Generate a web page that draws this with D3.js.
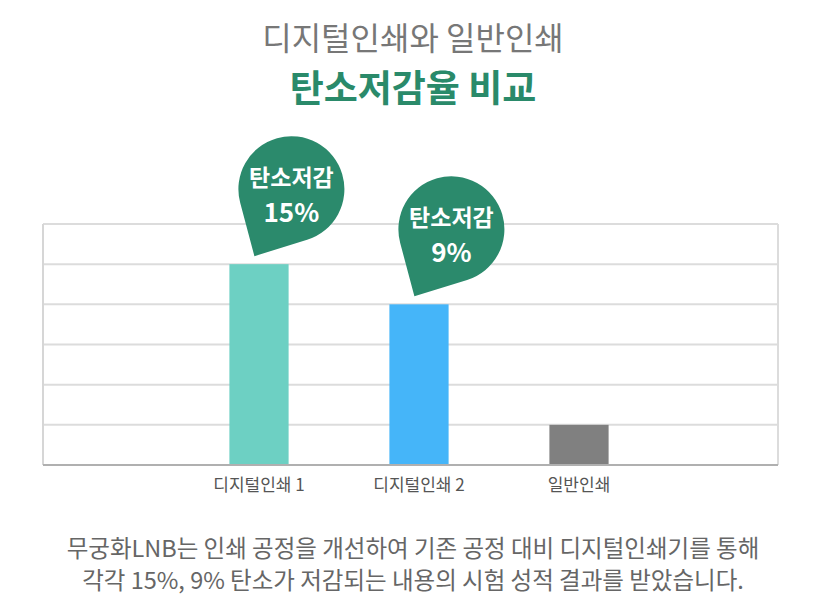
<!DOCTYPE html>
<html>
<head>
<meta charset="utf-8">
<script src="https://cdn.jsdelivr.net/npm/d3@7"></script>
<style>
  body { margin: 0; background: #fff; }
  text { font-family: "Noto Sans CJK KR", "Noto Sans", sans-serif; }
</style>
</head>
<body>
<svg></svg>
<script>
// chart data
const categories = ["디지털인쇄 1", "디지털인쇄 2", "일반인쇄"];
const barValues = [5, 4, 1];
const reductionLabels = ["15%", "9%", null];
const gridTicks = [0, 1, 2, 3, 4, 5, 6];
const titleLines = ["디지털인쇄와 일반인쇄", "탄소저감율 비교"];
const footerLines = [
  "무궁화LNB는 인쇄 공정을 개선하여 기존 공정 대비 디지털인쇄기를 통해",
  "각각 15%, 9% 탄소가 저감되는 내용의 시험 성적 결과를 받았습니다."
];

const w = 826;
const h = 615;
const margin = { top: 224, bottom: 150, left: 43, right: 48 };
const chartW = w - margin.left - margin.right;
const chartH = h - margin.top - margin.bottom;

const colors = ["#6dd0c3", "#45b5f9", "#808080"];
const bubbleColor = "#2b8a6c";

const svg = d3.select("svg").attr("width", w).attr("height", h);

// titles
svg.append("text")
  .attr("x", w / 2)
  .attr("y", 50)
  .attr("text-anchor", "middle")
  .style("font-size", "32px")
  .style("fill", "#777")
  .text(titleLines[0]);

svg.append("text")
  .attr("x", w / 2)
  .attr("y", 102)
  .attr("text-anchor", "middle")
  .style("font-size", "37px")
  .style("font-weight", "bold")
  .style("fill", "#2a8a6a")
  .text(titleLines[1]);

const chart = svg.append("g")
  .attr("transform", `translate(${margin.left}, ${margin.top})`);

const yScale = d3.scaleLinear()
  .domain([0, 6])
  .range([chartH, 0]);

// bars sit in the middle of the frame, not spread over all of it
const xScale = d3.scaleBand()
  .domain(categories)
  .range([136, 616])
  .paddingInner(0.63)
  .paddingOuter(0.315);

// horizontal grid
chart.append("g")
  .selectAll("line")
  .data(gridTicks.slice(1))
  .enter()
  .append("line")
  .attr("x1", 0)
  .attr("x2", chartW)
  .attr("y1", d => yScale(d))
  .attr("y2", d => yScale(d))
  .attr("stroke", "#dcdcdc")
  .attr("stroke-width", 2);

// left and right frame
chart.append("line")
  .attr("x1", 0).attr("x2", 0)
  .attr("y1", yScale(6)).attr("y2", yScale(0))
  .attr("stroke", "#d6d6d6").attr("stroke-width", 2);
chart.append("line")
  .attr("x1", chartW).attr("x2", chartW)
  .attr("y1", yScale(6)).attr("y2", yScale(0))
  .attr("stroke", "#dcdcdc").attr("stroke-width", 2);

// bars
chart.selectAll(".bar")
  .data(barValues)
  .enter()
  .append("rect")
  .attr("class", "bar")
  .attr("x", (d, i) => xScale(categories[i]))
  .attr("y", d => yScale(d))
  .attr("width", xScale.bandwidth())
  .attr("height", d => chartH - yScale(d))
  .attr("fill", (d, i) => colors[i]);

// x axis
const xAxis = chart.append("g")
  .attr("transform", `translate(0, ${chartH})`)
  .call(d3.axisBottom(xScale).tickSize(0).tickPadding(14));
xAxis.select(".domain").remove();
chart.append("line")
  .attr("x1", 0).attr("x2", chartW)
  .attr("y1", chartH).attr("y2", chartH)
  .attr("stroke", "#b0b0b0").attr("stroke-width", 2);
xAxis.selectAll("text")
  .style("font-size", "17px")
  .style("fill", "#555")
  .style("font-family", "\"Noto Sans CJK KR\", sans-serif");

// teardrop bubbles: circle plus a point at lower left touching the bar top
const r = 53;
function bubblePath(tx, ty, cx, cy) {
  const dx = tx - cx, dy = ty - cy;
  const dist = Math.sqrt(dx * dx + dy * dy);
  const base = Math.atan2(dy, dx);
  const off = Math.acos(r / dist);
  const a1 = base - off, a2 = base + off;
  const p1 = [cx + r * Math.cos(a1), cy + r * Math.sin(a1)];
  const p2 = [cx + r * Math.cos(a2), cy + r * Math.sin(a2)];
  return `M${tx},${ty} L${p1[0]},${p1[1]} A${r},${r} 0 1 0 ${p2[0]},${p2[1]} Z`;
}

barValues.forEach((v, i) => {
  if (!reductionLabels[i]) return;
  const tx = xScale(categories[i]) + 25;
  const ty = yScale(v) - 8;
  const cx = tx + 37;
  const cy = ty - 67;
  const g = chart.append("g");
  g.append("path")
    .attr("d", bubblePath(tx, ty, cx, cy))
    .attr("fill", bubbleColor);
  g.append("text")
    .attr("x", cx)
    .attr("y", cy - 3)
    .attr("text-anchor", "middle")
    .style("font-size", "23px")
    .style("font-weight", "600")
    .style("fill", "#fff")
    .text("탄소저감");
  g.append("text")
    .attr("x", cx)
    .attr("y", cy + 33)
    .attr("text-anchor", "middle")
    .style("font-size", "26px")
    .style("font-weight", "600")
    .style("fill", "#fff")
    .text(reductionLabels[i]);
});

// footer text
svg.selectAll(".footer")
  .data(footerLines)
  .enter()
  .append("text")
  .attr("class", "footer")
  .attr("x", w / 2)
  .attr("y", (d, i) => 557 + i * 32)
  .attr("text-anchor", "middle")
  .style("font-size", "23.5px")
  .style("fill", "#666")
  .text(d => d);
</script>
</body>
</html>
